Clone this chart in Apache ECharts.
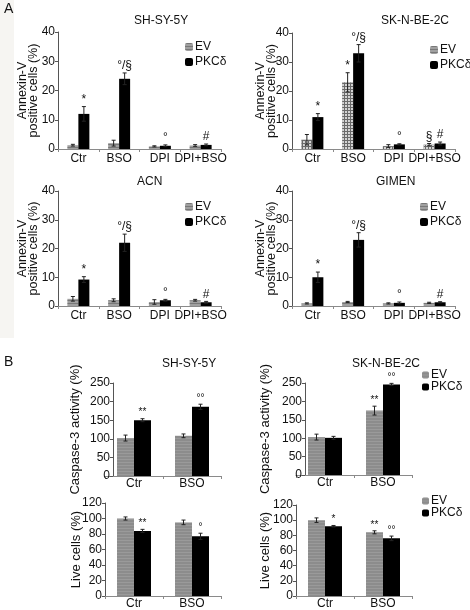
<!DOCTYPE html>
<html><head><meta charset="utf-8">
<script src="https://cdn.jsdelivr.net/npm/echarts@6/dist/echarts.min.js"></script>
<style>html,body{margin:0;padding:0;background:#fff}#c{width:470px;height:610px}</style>
</head><body><div id="c"></div>
<script>
// ---------- DATA ----------
const catsA = ['Ctr', 'BSO', 'DPI', 'DPI+BSO'];
const catsB = ['Ctr', 'BSO'];
const legendNames = ['EV', 'PKCδ'];

// Panel A: Annexin-V positive cells (%)
const shsyA_ev = [1.3, 2.0, 0.9, 1.2];
const shsyA_evErr = [0.3, 1.0, 0.2, 0.3];
const shsyA_pkc = [12, 24, 1.1, 1.4];
const shsyA_pkcErr = [2.5, 2.0, 0.3, 0.3];
const shsyA_evSig = ['', '', '', ''];
const shsyA_pkcSig = ['*', '°/§', '°', '#'];

const sknA_ev = [3.2, 23, 1.0, 1.5];
const sknA_evErr = [1.8, 3.3, 0.5, 0.4];
const sknA_pkc = [11, 33, 1.6, 1.9];
const sknA_pkcErr = [1.2, 3.0, 0.2, 0.5];
const sknA_evSig = ['', '*', '', '§'];
const sknA_pkcSig = ['*', '°/§', '°', '#'];

const acnA_ev = [2.5, 2.0, 1.4, 2.0];
const acnA_evErr = [0.8, 0.5, 0.8, 0.3];
const acnA_pkc = [9.2, 22, 2.0, 1.3];
const acnA_pkcErr = [1.0, 3.0, 0.3, 0.3];
const acnA_evSig = ['', '', '', ''];
const acnA_pkcSig = ['*', '°/§', '°', '#'];

const gimenA_ev = [0.9, 1.4, 0.9, 1.1];
const gimenA_evErr = [0.2, 0.2, 0.2, 0.2];
const gimenA_pkc = [10, 23, 1.1, 1.3];
const gimenA_pkcErr = [1.8, 2.5, 0.3, 0.2];
const gimenA_evSig = ['', '', '', ''];
const gimenA_pkcSig = ['*', '°/§', '°', '#'];

// Panel B: Caspase-3 activity (%) and Live cells (%)
const shsyCasp_ev = [102, 108];
const shsyCasp_evErr = [8, 5];
const shsyCasp_pkc = [150, 186];
const shsyCasp_pkcErr = [4, 7];
const shsyCasp_evSig = ['', ''];
const shsyCasp_pkcSig = ['**', '°°'];

const sknCasp_ev = [103, 175];
const sknCasp_evErr = [8, 12];
const sknCasp_pkc = [101, 246];
const sknCasp_pkcErr = [4, 3];
const sknCasp_evSig = ['', '**'];
const sknCasp_pkcSig = ['', '°°'];

const shsyLive_ev = [100, 95];
const shsyLive_evErr = [2, 3];
const shsyLive_pkc = [84, 77];
const shsyLive_pkcErr = [2, 4];
const shsyLive_evSig = ['', ''];
const shsyLive_pkcSig = ['**', '°'];

const sknLive_ev = [100, 84];
const sknLive_evErr = [3, 2];
const sknLive_pkc = [92, 76];
const sknLive_pkcErr = [1, 3];
const sknLive_evSig = ['', '**'];
const sknLive_pkcSig = ['*', '°°'];

// ---------- STYLES ----------
const FONT = '"Liberation Sans", Arial, sans-serif';
const decalLines = {symbol: 'rect', symbolSize: 1, dashArrayX: [1, 0], dashArrayY: [1, 2], color: 'rgba(70,70,70,0.45)', rotation: 0};
const decalGrid = {symbol: 'rect', symbolSize: 1, dashArrayX: [2, 1], dashArrayY: [2, 1], color: '#d4d4d4', rotation: 0};
const evStyleLines = {color: '#a0a0a0', decal: decalLines};
const evStyleGrid = {color: '#6a6a6a', decal: decalGrid};
const evStyleB = {color: '#8c8c8c', decal: {symbol: 'rect', symbolSize: 1, dashArrayX: [1, 0], dashArrayY: [1, 2], color: 'rgba(180,180,180,0.35)', rotation: 0}};

const option = {
  animation: false,
  textStyle: {fontFamily: FONT},
  grid: [], xAxis: [], yAxis: [], series: [], legend: [],
  graphic: []
};

function errRender(errs, sigs, side, bw, fs) {
  return function (params, api) {
    const i = params.dataIndex;
    const v = api.value(1);
    const c = api.coord([api.value(0), v]);
    const x = c[0] + side * bw / 2;
    const top = api.coord([api.value(0), v + errs[i]])[1];
    const bot = api.coord([api.value(0), Math.max(0, v - errs[i])])[1];
    const cap = 2;
    const st = {stroke: '#222', lineWidth: 1};
    const ch = [
      {type: 'line', shape: {x1: x, y1: bot, x2: x, y2: top}, style: st},
      {type: 'line', shape: {x1: x - cap, y1: top, x2: x + cap, y2: top}, style: st},
      {type: 'line', shape: {x1: x - cap, y1: bot, x2: x + cap, y2: bot}, style: st}
    ];
    if (sigs[i]) {
      ch.push({type: 'text', x: x, y: top - 1,
        style: {text: sigs[i], align: 'center', verticalAlign: 'bottom',
          font: fs + 'px ' + FONT, fill: '#111'}});
    }
    return {type: 'group', children: ch};
  };
}

function addChart(cfg) {
  const gi = option.grid.length;
  option.grid.push({left: cfg.left, top: cfg.top, width: cfg.width, height: cfg.height});
  option.xAxis.push({
    type: 'category', gridIndex: gi, data: cfg.cats,
    axisLine: {lineStyle: {color: '#8a8a8a', width: 1}},
    axisTick: {show: true, length: 3, lineStyle: {color: '#8a8a8a'}},
    axisLabel: {interval: 0, margin: cfg.xMargin, fontSize: cfg.xFont, color: '#111', fontFamily: FONT},
    splitLine: {show: false}
  });
  option.yAxis.push({
    type: 'value', gridIndex: gi, min: 0, max: cfg.max, interval: cfg.interval,
    offset: cfg.yOffset || 0,
    axisLine: {show: true, lineStyle: {color: '#555', width: 1}},
    axisTick: {show: true, length: 3, lineStyle: {color: '#555'}},
    axisLabel: {fontSize: cfg.yFont, color: '#111', margin: 3, fontFamily: FONT},
    splitLine: {show: false},
    name: cfg.yName, nameLocation: 'middle', nameGap: cfg.nameGap, nameMoveOverlap: false,
    nameTextStyle: {fontSize: cfg.nameFont, color: '#111', lineHeight: cfg.nameLH, fontFamily: FONT}
  });
  option.series.push({
    type: 'bar', name: 'EV', xAxisIndex: gi, yAxisIndex: gi, data: cfg.ev,
    barWidth: cfg.bw, barGap: '0%', itemStyle: cfg.evStyle
  });
  option.series.push({
    type: 'bar', name: 'PKCδ', xAxisIndex: gi, yAxisIndex: gi, data: cfg.pkc,
    barWidth: cfg.bw, barGap: '0%', itemStyle: {color: '#000'}
  });
  option.series.push({
    type: 'custom', xAxisIndex: gi, yAxisIndex: gi, z: 5,
    data: cfg.ev.map((v, i) => [i, v]), encode: {x: 0, y: 1},
    renderItem: errRender(cfg.evErr, cfg.evSig, -1, cfg.bw, cfg.sigFont)
  });
  option.series.push({
    type: 'custom', xAxisIndex: gi, yAxisIndex: gi, z: 5,
    data: cfg.pkc.map((v, i) => [i, v]), encode: {x: 0, y: 1},
    renderItem: errRender(cfg.pkcErr, cfg.pkcSig, 1, cfg.bw, cfg.sigFont)
  });
  if (cfg.title) {
    option.graphic.push({type: 'text', left: cfg.title.x, top: cfg.title.y,
      style: {text: cfg.title.text, font: '12px ' + FONT, fill: '#111', align: 'center'}});
  }
  if (cfg.legend) {
    option.legend.push({
      left: cfg.legend.x, top: cfg.legend.y, orient: 'vertical',
      itemWidth: cfg.legend.size, itemHeight: cfg.legend.size, itemGap: cfg.legend.gap,
      selectedMode: false, padding: 0,
      textStyle: {fontSize: cfg.legend.font, color: '#111', padding: [0, 0, 0, -3], fontFamily: FONT},
      data: [{name: 'EV', itemStyle: cfg.legend.evStyle || evStyleLines}, {name: 'PKCδ'}]
    });
  }
}

const yNameA = 'Annexin-V\npositive cells (%)';
const baseA = {cats: catsA, max: 40, interval: 10, bw: 11, xFont: 12, yFont: 12, xMargin: 4, sigFont: 12, width: 163,
  evStyle: evStyleLines, nameFont: 12.5, nameLH: 11};

addChart(Object.assign({}, baseA, {left: 58, top: 32, height: 117, yName: yNameA, nameGap: 19,
  ev: shsyA_ev, evErr: shsyA_evErr, pkc: shsyA_pkc, pkcErr: shsyA_pkcErr, evSig: shsyA_evSig, pkcSig: shsyA_pkcSig,
  title: {text: 'SH-SY-5Y', x: 134, y: 15}, legend: {x: 185, y: 41, size: 8, gap: 3, font: 12}}));
addChart(Object.assign({}, baseA, {left: 292, top: 33, height: 116, yName: yNameA, nameGap: 15, evStyle: evStyleGrid,
  ev: sknA_ev, evErr: sknA_evErr, pkc: sknA_pkc, pkcErr: sknA_pkcErr, evSig: sknA_evSig, pkcSig: sknA_pkcSig,
  title: {text: 'SK-N-BE-2C', x: 381, y: 15}, legend: {x: 430, y: 44, size: 8, gap: 3, font: 12}}));
addChart(Object.assign({}, baseA, {left: 58, top: 191, height: 115, yName: yNameA, nameGap: 19,
  ev: acnA_ev, evErr: acnA_evErr, pkc: acnA_pkc, pkcErr: acnA_pkcErr, evSig: acnA_evSig, pkcSig: acnA_pkcSig,
  title: {text: 'ACN', x: 137, y: 176}, legend: {x: 185, y: 201, size: 8, gap: 3, font: 12}}));
addChart(Object.assign({}, baseA, {left: 292, top: 191, height: 115, yName: yNameA, nameGap: 15,
  ev: gimenA_ev, evErr: gimenA_evErr, pkc: gimenA_pkc, pkcErr: gimenA_pkcErr, evSig: gimenA_evSig, pkcSig: gimenA_pkcSig,
  title: {text: 'GIMEN', x: 376, y: 176}, legend: {x: 420, y: 201, size: 8, gap: 3, font: 12}}));

const baseB = {cats: catsB, bw: 17, xFont: 12, yFont: 12, xMargin: 2, sigFont: 10, width: 116, evStyle: evStyleB,
  nameFont: 13, nameLH: 14};
addChart(Object.assign({}, baseB, {left: 105, top: 383, height: 93, max: 250, interval: 50, yOffset: -8,
  yName: 'Caspase-3 activity (%)', nameGap: 31,
  ev: shsyCasp_ev, evErr: shsyCasp_evErr, pkc: shsyCasp_pkc, pkcErr: shsyCasp_pkcErr, evSig: shsyCasp_evSig, pkcSig: shsyCasp_pkcSig,
  title: {text: 'SH-SY-5Y', x: 162, y: 358}}));
addChart(Object.assign({}, baseB, {left: 296, top: 383, height: 92, max: 250, interval: 50, yOffset: -9,
  yName: 'Caspase-3 activity (%)', nameGap: 33,
  ev: sknCasp_ev, evErr: sknCasp_evErr, pkc: sknCasp_pkc, pkcErr: sknCasp_pkcErr, evSig: sknCasp_evSig, pkcSig: sknCasp_pkcSig,
  title: {text: 'SK-N-BE-2C', x: 352, y: 358}, legend: {x: 422, y: 369, size: 7, gap: 0, font: 12, evStyle: evStyleB}}));
addChart(Object.assign({}, baseB, {left: 105, top: 503, height: 94, max: 120, interval: 20,
  yName: 'Live cells (%)', nameGap: 22,
  ev: shsyLive_ev, evErr: shsyLive_evErr, pkc: shsyLive_pkc, pkcErr: shsyLive_pkcErr, evSig: shsyLive_evSig, pkcSig: shsyLive_pkcSig}));
addChart(Object.assign({}, baseB, {left: 296, top: 505, height: 93, max: 120, interval: 20,
  yName: 'Live cells (%)', nameGap: 24,
  ev: sknLive_ev, evErr: sknLive_evErr, pkc: sknLive_pkc, pkcErr: sknLive_pkcErr, evSig: sknLive_evSig, pkcSig: sknLive_pkcSig,
  legend: {x: 422, y: 495, size: 7, gap: 0, font: 12, evStyle: evStyleB}}));

// panel background strip and panel letters
option.graphic.unshift({type: 'rect', left: 0, top: 0, z: -10, shape: {width: 14, height: 338}, style: {fill: '#f6f5f2'}});
option.graphic.push({type: 'text', left: 4, top: 2, style: {text: 'A', font: '14px ' + FONT, fill: '#111'}});
option.graphic.push({type: 'text', left: 4, top: 355, style: {text: 'B', font: '14px ' + FONT, fill: '#111'}});

const chart = echarts.init(document.getElementById('c'), null, {renderer: 'canvas'});
chart.setOption(option);
</script></body></html>
